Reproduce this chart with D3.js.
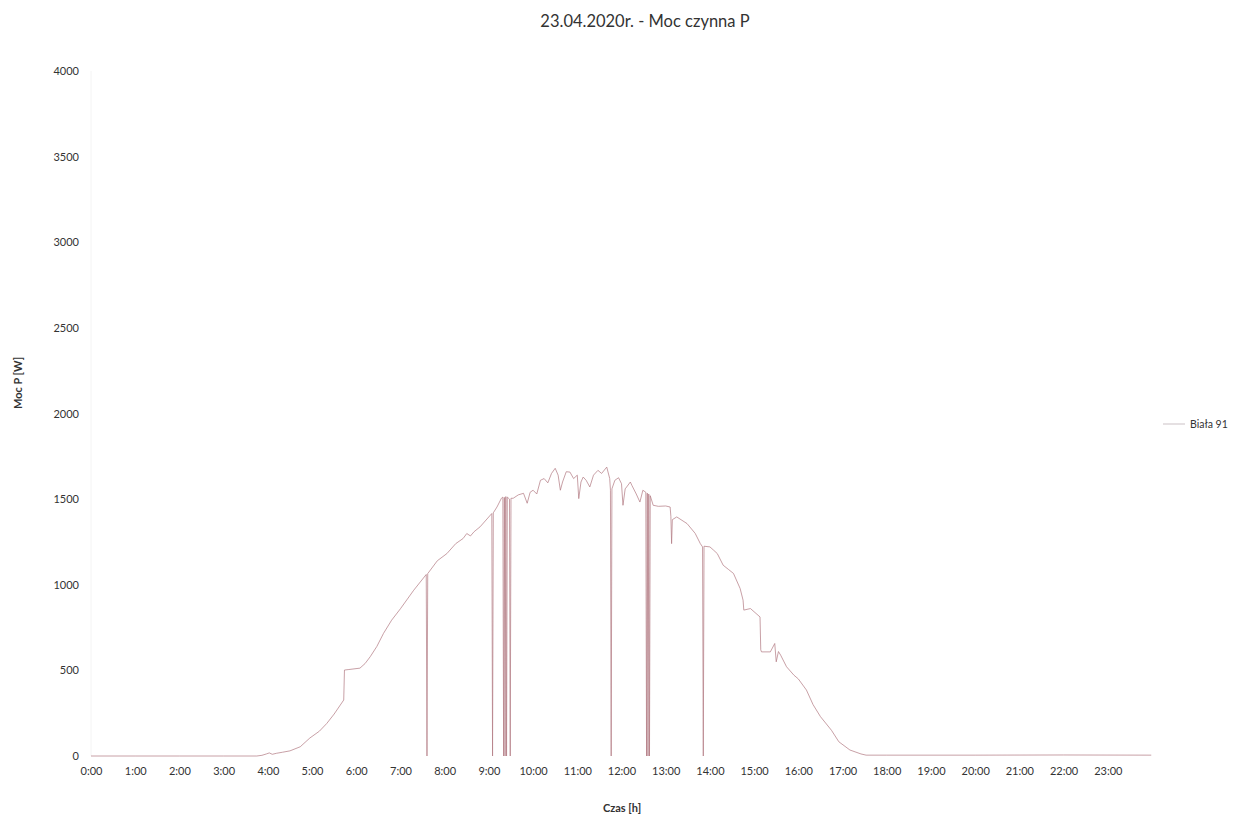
<!DOCTYPE html>
<html>
<head>
<meta charset="utf-8">
<script src="https://cdn.jsdelivr.net/npm/d3@7"></script>
<style>
  body { margin: 0; background: #fff; }
  text { font-family: Lato, "Open Sans", sans-serif; fill: #333; }
</style>
</head>
<body>
<svg class="chart"></svg>
<script>
// values (time of day, active power in W)
var title = "23.04.2020r. - Moc czynna P";
var seriesName = "Biała 91";
var hourLabels = ["0:00","1:00","2:00","3:00","4:00","5:00","6:00","7:00","8:00","9:00","10:00","11:00",
  "12:00","13:00","14:00","15:00","16:00","17:00","18:00","19:00","20:00","21:00","22:00","23:00"];
var yTicks = [0, 500, 1000, 1500, 2000, 2500, 3000, 3500, 4000];

var times = ["0:00","1:00","2:00","3:00","3:45","3:52","3:58","4:02","4:06","4:12","4:20","4:30","4:44","4:57",
  "5:10","5:20","5:30","5:43","5:44","5:50","6:05","6:12","6:19","6:28","6:37","6:48","7:00","7:18",
  "7:35","7:36","7:37","7:50","8:03","8:15","8:25","8:30","8:35","8:40","8:48","9:04","9:05","9:06",
  "9:11","9:17","9:19","9:20","9:21","9:22","9:23","9:24","9:25","9:28","9:29","9:30","9:33","9:40",
  "9:47","9:52","9:56","10:00","10:05","10:10","10:15","10:20","10:25","10:30","10:34","10:37","10:40",
  "10:45","10:50","10:55","11:00","11:02","11:05","11:08","11:12","11:17","11:22","11:28","11:33","11:40",
  "11:44","11:45","11:46","11:47","11:51","11:56","12:00","12:02","12:05","12:07","12:12","12:14","12:20",
  "12:25","12:29","12:33","12:34","12:35","12:36","12:37","12:38","12:39","12:43","12:50","13:00","13:06",
  "13:07","13:08","13:09","13:15","13:29","13:40","13:47","13:50","13:51","13:52","14:00","14:05","14:10",
  "14:18","14:25","14:32","14:41","14:45","14:46","14:55","15:08","15:09","15:10","15:22","15:28","15:30",
  "15:33","15:36","15:44","15:54","16:00","16:11","16:20","16:30","16:45","16:55","17:10","17:25","17:32",
  "18:00","20:00","22:00","23:59"];
var power = [0,0,0,0,0,4,12,18,10,16,22,30,54,105,
  145,190,245,327,502,505,513,540,580,640,716,793,860,968,
  1060,0,1065,1140,1182,1240,1270,1299,1285,1310,1338,1416,0,1420,
  1454,1505,1512,0,1510,0,1515,0,1512,1500,0,1505,1505,1525,
  1534,1476,1540,1552,1530,1610,1620,1595,1650,1680,1640,1552,1600,
  1660,1658,1620,1640,1503,1600,1629,1610,1571,1640,1668,1650,1687,
  1620,1552,0,1560,1610,1625,1590,1464,1560,1571,1600,1581,1530,
  1483,1552,1540,0,1535,0,1530,0,1520,1464,1458,1460,1454,
  1400,1240,1380,1396,1357,1300,1240,1221,0,1225,1221,1202,1182,
  1114,1090,1066,978,910,852,861,812,620,608,608,657,550,
  610,589,521,472,450,385,300,230,150,83,35,12,5,
  5,5,6,5];

var width = 1248;
var height = 820;

var data = times.map(function(t, i) {
  var p = t.split(":");
  return { h: +p[0] + p[1] / 60, v: power[i] };
});

var chart = d3.select(".chart").attr("width", width).attr("height", height);

var x = d3.scaleLinear().domain([0, 24]).range([91, 1152]);
var y = d3.scaleLinear().domain([0, 4000]).range([756, 71]);

// faint left edge of plot area
chart.append("line")
  .attr("x1", x(0)).attr("x2", x(0))
  .attr("y1", y(4000)).attr("y2", y(0))
  .attr("stroke", "#f4f4f4");

var xAxis = d3.axisBottom(x)
  .tickValues(d3.range(0, 24))
  .tickFormat(function(d) { return hourLabels[d]; })
  .tickSize(0)
  .tickPadding(11);

var gx = chart.append("g")
  .attr("transform", "translate(0," + y(0) + ")")
  .call(xAxis);
gx.select(".domain").remove();
gx.selectAll("text").style("font-size", "11px").attr("fill", "#333");

var yAxis = d3.axisLeft(y)
  .tickValues(yTicks)
  .tickFormat(d3.format("d"))
  .tickSize(0)
  .tickPadding(12);

var gy = chart.append("g")
  .attr("transform", "translate(" + x(0) + ",0)")
  .call(yAxis);
gy.select(".domain").remove();
gy.selectAll("text").style("font-size", "11px").attr("fill", "#333");

var line = d3.line()
  .x(function(d) { return x(d.h); })
  .y(function(d) { return y(d.v); });

chart.append("path")
  .datum(data)
  .attr("d", line)
  .attr("fill", "none")
  .attr("stroke", "#b07880")
  .attr("stroke-opacity", 0.7)
  .attr("stroke-width", 1);

chart.append("text")
  .attr("x", 645)
  .attr("y", 27)
  .attr("text-anchor", "middle")
  .style("font-size", "16.5px")
  .text(title);

chart.append("text")
  .attr("transform", "rotate(-90)")
  .attr("x", -383)
  .attr("y", 22)
  .attr("text-anchor", "middle")
  .style("font-size", "11px")
  .style("font-weight", "bold")
  .text("Moc P [W]");

chart.append("text")
  .attr("x", 622)
  .attr("y", 812)
  .attr("text-anchor", "middle")
  .style("font-size", "11px")
  .style("font-weight", "bold")
  .text("Czas [h]");

// legend
chart.append("line")
  .attr("x1", 1163).attr("x2", 1185)
  .attr("y1", 424).attr("y2", 424)
  .attr("stroke", "#ddd6d8")
  .attr("stroke-width", 1.5);

chart.append("text")
  .attr("x", 1190)
  .attr("y", 428)
  .style("font-size", "10.5px")
  .text(seriesName);
</script>
</body>
</html>
